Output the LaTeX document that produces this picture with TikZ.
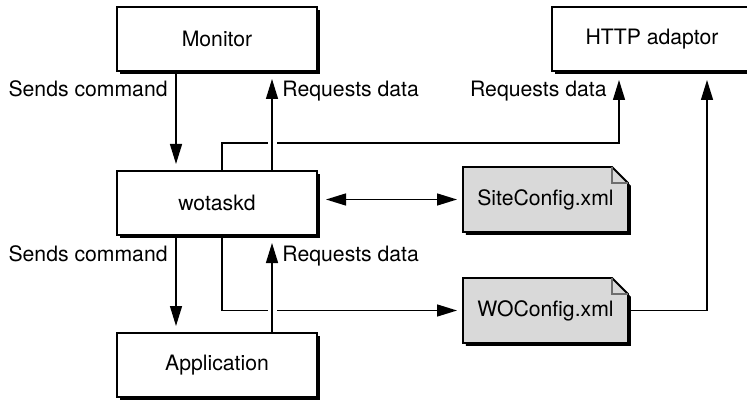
\documentclass[tikz,border=0pt]{standalone}
\usepackage{fontspec}
\setmainfont{TeX Gyre Heros}
\usetikzlibrary{positioning,arrows.meta,shadows,backgrounds}
\definecolor{FileGray}{RGB}{217,217,217}
\definecolor{FoldGray}{RGB}{110,110,110}

\begin{document}
\begin{tikzpicture}[
        node distance=50pt,
        box/.style={
            draw=black,
            fill=white,
            line width=0.9pt,
            outer sep=0pt,
            minimum width=100pt,
            minimum height=32pt,
            font=\fontsize{10.6}{12.7}\selectfont,
            drop shadow={shadow xshift=1.4pt, shadow yshift=-1.4pt, fill=black, opacity=1}
        },
        xmlfile/.style={
            outer sep=0pt,
            minimum width=82.5pt,
            minimum height=32.5pt,
            font=\fontsize{10.6}{12.7}\selectfont
        },
        lbl/.style={inner sep=0pt, font=\fontsize{10.6}{12.7}\selectfont},
        flow/.style={line width=0.7pt, -{Triangle[length=10pt,width=6pt]}},
        flowboth/.style={line width=0.7pt, {Triangle[length=10pt,width=6pt]}-{Triangle[length=10pt,width=6pt]}},
        jump/.style={preaction={draw=white, line width=4.5pt, -, shorten <=6pt, shorten >=8pt}}
    ]
    \useasboundingbox (0,0) rectangle (373.5pt,-200pt);

    \node[box] (monitor) at (108.5pt,-19.5pt) {Monitor};
    \node[box, below=of monitor] (wotaskd) {wotaskd};
    \node[box, below=49pt of wotaskd] (app) {Application};
    \node[box, right=117.5pt of monitor] (http) {HTTP adaptor};
    \node[xmlfile, right=73pt of wotaskd, yshift=1.75pt] (site) {SiteConfig.xml};
    \node[xmlfile, below=23pt of site] (wocfg) {WOConfig.xml};

    % xml files with folded corner
    \begin{scope}[on background layer]
    \foreach \f in {site,wocfg} {
        \fill[black] ([shift={(1.4pt,-1.4pt)}]\f.south west) -- ([shift={(1.4pt,-1.4pt)}]\f.north west)
            -- ([shift={(-6.6pt,-1.4pt)}]\f.north east) -- ([shift={(1.4pt,-9.4pt)}]\f.north east)
            -- ([shift={(1.4pt,-1.4pt)}]\f.south east) -- cycle;
        \filldraw[fill=FileGray, draw=black, line width=0.9pt] (\f.south west) -- (\f.north west)
            -- ([xshift=-8pt]\f.north east) -- ([yshift=-8pt]\f.north east) -- (\f.south east) -- cycle;
        \draw[FoldGray, line width=0.6pt] ([xshift=-8pt]\f.north east) |- ([yshift=-8pt]\f.north east);
    }
    \end{scope}

    % monitor and http adaptor
    \draw[flow, shorten >=3.5pt] ([xshift=-20.5pt]monitor.south) -- ([xshift=-20.5pt]wotaskd.north);
    \draw[flow, shorten >=4.5pt] ([xshift=2.5pt]wotaskd.north) -- ++(0,14pt) -| ([xshift=-16.5pt]http.south);
    \draw[flow, shorten >=4pt, jump] ([xshift=27.5pt]wotaskd.north) -- ([xshift=27.5pt]monitor.south);

    % application and WOConfig
    \draw[flow, shorten >=3.5pt] ([xshift=-20.5pt]wotaskd.south) -- ([xshift=-20.5pt]app.north);
    \draw[flow, shorten >=3pt] ([xshift=2.5pt]wotaskd.south) |- (wocfg.west);
    \draw[flow, shorten >=4pt, jump] ([xshift=27.5pt]app.north) -- ([xshift=27.5pt]wotaskd.south);

    \draw[flowboth, shorten <=4.5pt, shorten >=3pt] (wotaskd.east |- site.west) -- (site.west);
    \draw[flow, shorten >=4.5pt] (wocfg.east) -| ([xshift=27.5pt]http.south);

    \node[lbl, anchor=base east] (sendtop) at ([shift={(-24.5pt,-13pt)}]monitor.south) {Sends command};
    \node[lbl, anchor=base west] (reqtop) at ([shift={(32.5pt,-13pt)}]monitor.south) {Requests data};
    \node[lbl, anchor=base east] (reqhttp) at ([shift={(-22.5pt,-13pt)}]http.south) {Requests data};
    \node[lbl, anchor=base east] (sendlow) at ([shift={(-24.5pt,-13pt)}]wotaskd.south) {Sends command};
    \node[lbl, anchor=base west] (reqlow) at ([shift={(32.5pt,-13pt)}]wotaskd.south) {Requests data};
\end{tikzpicture}
\end{document}
